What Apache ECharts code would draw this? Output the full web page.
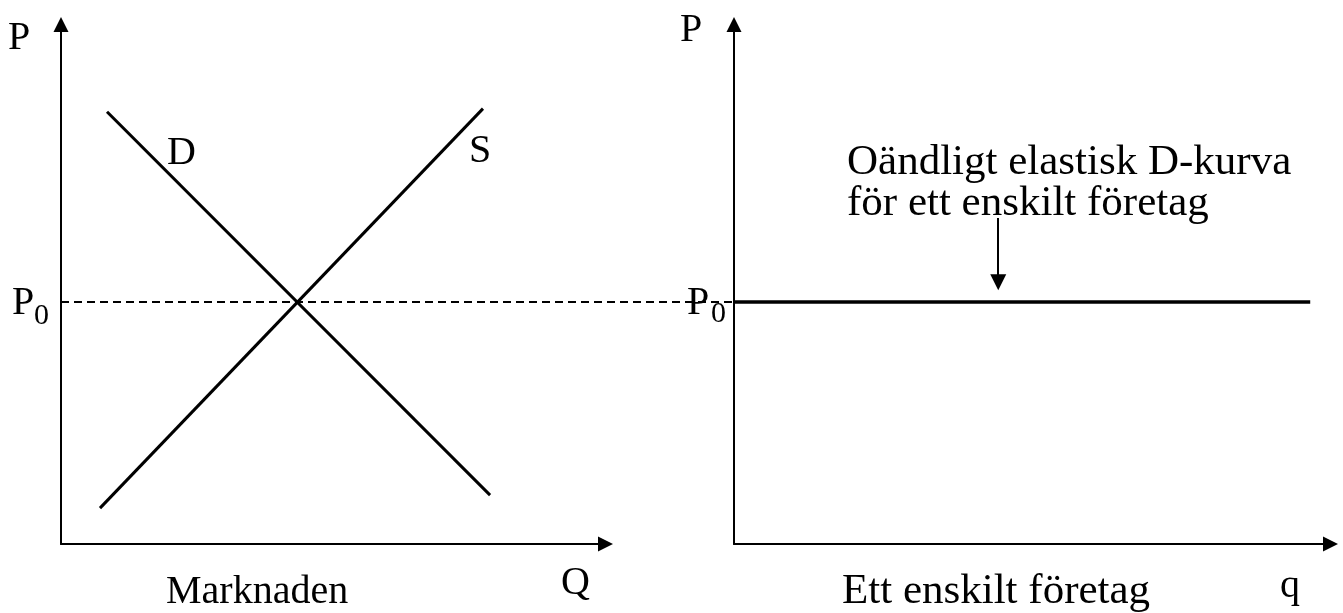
<!DOCTYPE html>
<html><head><meta charset="utf-8">
<script src="https://cdn.jsdelivr.net/npm/echarts@6/dist/echarts.min.js"></script>
<style>html,body{margin:0;padding:0;background:#fff}#c{width:1343px;height:613px}</style>
</head><body><div id="c"></div>
<script>
// Market panel (axis units 0..100)
const demandX = [8.45, 78.8];
const demandY = [83.2, 9.4];
const supplyX = [7.16, 77.5];
const supplyY = [6.9, 83.8];
const priceP0 = 46.6;
// dashed price line: runs on a bridge axis from the market P-axis (0) to the firm P-axis (100)
const dashX = [0, 100];
// Firm panel
const firmX = [0, 96.6];
const arrowX = 44.3;
const arrowY = [62.75, 50.4];
// texts
const labelP = 'P';
const labelP0 = ['P', '0'];
const labelD = 'D';
const labelS = 'S';
const labelQ = 'Q';
const labelq = 'q';
const titleLeft = 'Marknaden';
const titleRight = 'Ett enskilt företag';
const noteLines = ['Oändligt elastisk D-kurva', 'för ett enskilt företag'];

const FONT = '"Liberation Serif", "Times New Roman", serif';
const chart = echarts.init(document.getElementById('c'), null, {renderer: 'canvas'});

function axis(gi, show) {
  return {
    type: 'value', gridIndex: gi, min: 0, max: 100, show: show,
    axisLine: {show: true, onZero: true, symbol: ['none', 'triangle'], symbolSize: [15, 15],
      lineStyle: {color: '#000', width: 2}},
    axisTick: {show: false}, axisLabel: {show: false}, splitLine: {show: false}
  };
}
function txt(text, x, y, size) {
  return {type: 'text', x: x, y: y, silent: true,
    style: {text: text, font: size + 'px ' + FONT, fill: '#000', verticalAlign: 'middle', align: 'left'}};
}
function pairs(xs, ys) { return xs.map((x, i) => [x, ys[i]]); }

chart.setOption({
  animation: false,
  backgroundColor: '#fff',
  grid: [
    {left: 61, top: 24.5, width: 544.5, height: 519.5},
    {left: 734, top: 24.5, width: 596.5, height: 519.5},
    {left: 61, top: 24.5, width: 673, height: 519.5}
  ],
  xAxis: [axis(0, true), axis(1, true), axis(2, false)],
  yAxis: [axis(0, true), axis(1, true), axis(2, false)],
  series: [
    {type: 'line', xAxisIndex: 2, yAxisIndex: 2, showSymbol: false, silent: true, z: 1,
      data: dashX.map(x => [x, priceP0]),
      lineStyle: {color: '#000', width: 2, type: [8, 5]}},
    {type: 'line', xAxisIndex: 0, yAxisIndex: 0, showSymbol: false, silent: true,
      data: pairs(demandX, demandY), lineStyle: {color: '#000', width: 3}},
    {type: 'line', xAxisIndex: 0, yAxisIndex: 0, showSymbol: false, silent: true,
      data: pairs(supplyX, supplyY), lineStyle: {color: '#000', width: 3}},
    {type: 'line', xAxisIndex: 1, yAxisIndex: 1, showSymbol: false, silent: true, z: 3,
      data: firmX.map(x => [x, priceP0]), lineStyle: {color: '#000', width: 3.5},
      markLine: {silent: true, animation: false, symbol: ['none', 'triangle'], symbolSize: [16, 16],
        label: {show: false}, lineStyle: {color: '#000', width: 2, type: 'solid'},
        emphasis: {disabled: true},
        data: [[{coord: [arrowX, arrowY[0]]}, {coord: [arrowX, arrowY[1]]}]]}}
  ],
  graphic: [
    txt(labelP, 8, 38, 40),
    txt(labelP, 680, 30, 40),
    txt(labelP0[0], 12, 303, 40),
    txt(labelP0[1], 34, 316, 30),
    txt(labelP0[0], 687, 303, 40),
    txt(labelP0[1], 711, 314, 30),
    txt(labelD, 167, 153, 40),
    txt(labelS, 469, 151, 40),
    txt(labelQ, 561, 583, 40),
    txt(labelq, 1280, 586, 40),
    txt(titleLeft, 166, 592, 40),
    txt(titleRight, 842, 592, 43),
    txt(noteLines[0], 847, 163, 43),
    txt(noteLines[1], 847, 204, 43)
  ]
});
</script></body></html>
